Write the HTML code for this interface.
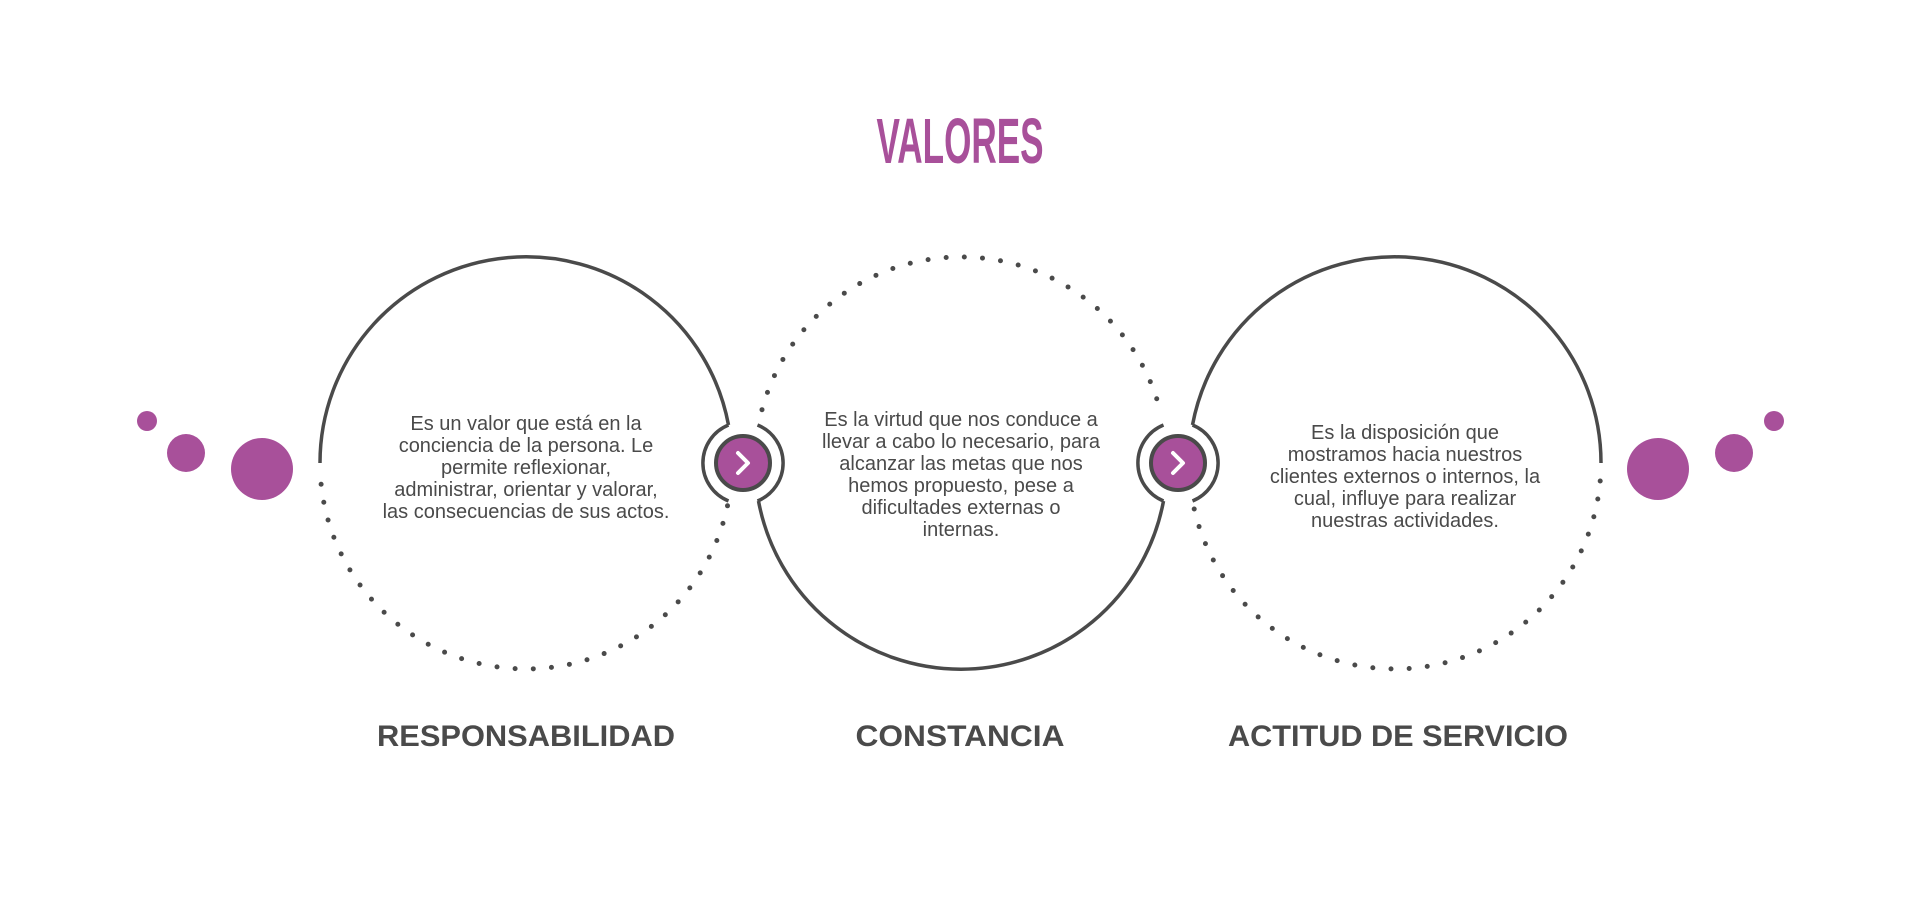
<!DOCTYPE html>
<html><head><meta charset="utf-8"><style>
html,body{margin:0;padding:0;background:#fff;}
svg{display:block;}
.p{font-family:"Liberation Sans",sans-serif;font-size:20px;fill:#4a4a4a;}
.l{font-family:"Liberation Sans",sans-serif;font-size:30px;font-weight:bold;fill:#4a4a4a;}
</style></head><body>
<svg width="1920" height="910" viewBox="0 0 1920 910" xmlns="http://www.w3.org/2000/svg">
<text x="960" y="163" text-anchor="middle" font-family="Liberation Sans, sans-serif" font-weight="bold" font-size="64" fill="#a8509a" textLength="167" lengthAdjust="spacingAndGlyphs">VALORES</text>

<g fill="#a8509a">
<circle cx="147" cy="421" r="10"/><circle cx="186" cy="453" r="19"/><circle cx="262" cy="469" r="31"/>
<circle cx="1774" cy="421" r="10"/><circle cx="1734" cy="453" r="19"/><circle cx="1658" cy="469" r="31"/>
</g>

<g fill="none" stroke="#4a4a4a" stroke-width="3.5">
<path d="M320 463 A206 206 0 0 1 728.5 425"/>
<path d="M758.5 501 A206 206 0 0 0 1163.5 501"/>
<path d="M1192.5 425 A206 206 0 0 1 1601 463"/>
<path d="M728.5 425 A41 41 0 0 0 728.5 501"/>
<path d="M757.5 425 A41 41 0 0 1 757.5 501"/>
<path d="M1163.5 425 A41 41 0 0 0 1163.5 501"/>
<path d="M1192.5 425 A41 41 0 0 1 1192.5 501"/>
</g>
<g fill="none" stroke="#4a4a4a" stroke-width="5" stroke-linecap="round" stroke-dasharray="0 18.2">
<path d="M727.5 505.8 A206 206 0 0 1 320.8 481"/>
<path d="M762 409.7 A206 206 0 0 1 1160 409.7"/>
<path d="M1600.2 481 A206 206 0 0 1 1193.5 505.8"/>
</g>

<g>
<circle cx="743" cy="463" r="27" fill="#a8509a" stroke="#4a4a4a" stroke-width="4"/>
<path d="M738 453 L748 463 L738 473" fill="none" stroke="#fff" stroke-width="4" stroke-linecap="round" stroke-linejoin="round"/>
<circle cx="1178" cy="463" r="27" fill="#a8509a" stroke="#4a4a4a" stroke-width="4"/>
<path d="M1173 453 L1183 463 L1173 473" fill="none" stroke="#fff" stroke-width="4" stroke-linecap="round" stroke-linejoin="round"/>
</g>

<g class="p" text-anchor="middle">
<text x="526" y="430">Es un valor que está en la</text>
<text x="526" y="452">conciencia de la persona. Le</text>
<text x="526" y="474">permite reflexionar,</text>
<text x="526" y="496">administrar, orientar y valorar,</text>
<text x="526" y="518">las consecuencias de sus actos.</text>

<text x="961" y="426">Es la virtud que nos conduce a</text>
<text x="961" y="448">llevar a cabo lo necesario, para</text>
<text x="961" y="470">alcanzar las metas que nos</text>
<text x="961" y="492">hemos propuesto, pese a</text>
<text x="961" y="514">dificultades externas o</text>
<text x="961" y="536">internas.</text>

<text x="1405" y="439">Es la disposición que</text>
<text x="1405" y="461">mostramos hacia nuestros</text>
<text x="1405" y="483">clientes externos o internos, la</text>
<text x="1405" y="505">cual, influye para realizar</text>
<text x="1405" y="527">nuestras actividades.</text>
</g>

<g class="l" text-anchor="middle">
<text x="526" y="746" textLength="298" lengthAdjust="spacingAndGlyphs">RESPONSABILIDAD</text>
<text x="960" y="746" textLength="209" lengthAdjust="spacingAndGlyphs">CONSTANCIA</text>
<text x="1398" y="746" textLength="340" lengthAdjust="spacingAndGlyphs">ACTITUD DE SERVICIO</text>
</g>
</svg>
</body></html>
